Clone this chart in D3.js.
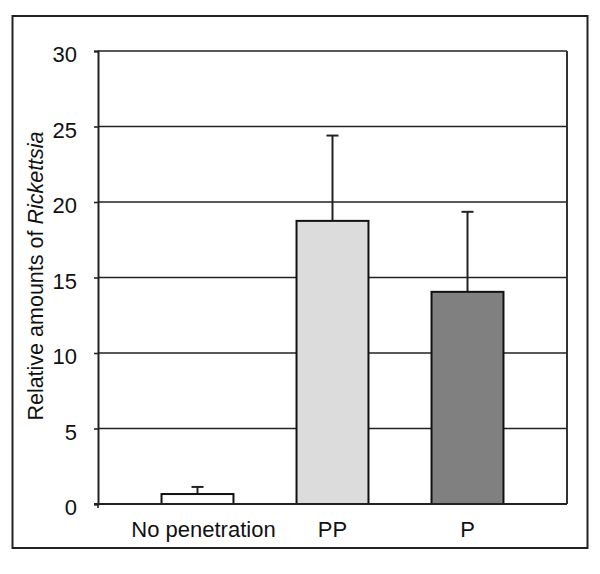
<!DOCTYPE html>
<html>
<head>
<meta charset="utf-8">
<script src="https://cdn.jsdelivr.net/npm/d3@7"></script>
<style>
	body{margin:0;padding:0;background:#fff;}
	svg{display:block;}
	text{font-family:"Liberation Sans", Arial, sans-serif;fill:#111;}
</style>
</head>
<body>
<div id="rickwrap"></div>
<script>
//chart values
var categories = ["No penetration", "PP", "P"];
var means = [0.66, 18.75, 14.05];
var errors = [0.47, 5.65, 5.3];
var yticks = [0, 5, 10, 15, 20, 25, 30];

//global namespace
rick = {};

(function(){

	var scope = rick;
	var dom = scope.dom = {};

	var width = 600, height = 574;
	var fills = ["#ffffff", "#dcdcdc", "#808080"];

	dom.wrap = d3.select("#rickwrap");
	dom.svg = dom.wrap.append("svg").attr("width", width).attr("height", height);

	//outer frame
	dom.svg.append("rect")
		.attr("x", 12.5).attr("y", 16)
		.attr("width", 575).attr("height", 532)
		.attr("fill", "none").attr("stroke", "#222").attr("stroke-width", 2);

	var plot = {left:98, right:567, top:51, bottom:504};

	var y = d3.scaleLinear().domain([0, 30]).range([plot.bottom, plot.top]);
	var x = d3.scaleBand().domain(categories).range([130, 535])
		.paddingInner(0.467).paddingOuter(0.2335);

	//gridlines
	dom.svg.append("g").selectAll("line").data(yticks.filter(function(d){return d>0})).enter()
		.append("line")
		.attr("x1", plot.left).attr("x2", plot.right)
		.attr("y1", function(d){return y(d)}).attr("y2", function(d){return y(d)})
		.attr("stroke", "#222").attr("stroke-width", 1.6);

	//right edge of plot area
	dom.svg.append("line")
		.attr("x1", plot.right).attr("x2", plot.right)
		.attr("y1", plot.top).attr("y2", plot.bottom)
		.attr("stroke", "#333").attr("stroke-width", 2);

	//y axis
	var yaxis = dom.svg.append("g")
		.attr("transform", "translate(" + plot.left + ",0)")
		.call(d3.axisLeft(y).tickValues(yticks).tickSize(4).tickPadding(17));
	yaxis.select(".domain").attr("stroke", "#222").attr("stroke-width", 2);
	yaxis.selectAll(".tick line").attr("stroke", "#222").attr("stroke-width", 1.6);
	yaxis.selectAll("text").attr("font-size", "22px").attr("font-family", "Liberation Sans, Arial, sans-serif")
		.attr("fill", "#111").attr("dy", "0.48em");

	//bars
	var bars = dom.svg.append("g").selectAll("g").data(categories).enter().append("g");

	bars.append("line")
		.attr("x1", function(d){return x(d) + x.bandwidth()/2})
		.attr("x2", function(d){return x(d) + x.bandwidth()/2})
		.attr("y1", function(d,i){return y(means[i])})
		.attr("y2", function(d,i){return y(means[i] + errors[i])})
		.attr("stroke", "#222").attr("stroke-width", 2);

	bars.append("line")
		.attr("x1", function(d){return x(d) + x.bandwidth()/2 - 6})
		.attr("x2", function(d){return x(d) + x.bandwidth()/2 + 6})
		.attr("y1", function(d,i){return y(means[i] + errors[i])})
		.attr("y2", function(d,i){return y(means[i] + errors[i])})
		.attr("stroke", "#222").attr("stroke-width", 2);

	bars.append("rect")
		.attr("x", function(d){return x(d)})
		.attr("y", function(d,i){return y(means[i])})
		.attr("width", x.bandwidth())
		.attr("height", function(d,i){return y(0) - y(means[i])})
		.attr("fill", function(d,i){return fills[i]})
		.attr("stroke", "#111").attr("stroke-width", 2);

	//x axis
	dom.svg.append("line")
		.attr("x1", plot.left - 4).attr("x2", plot.right)
		.attr("y1", y(0)).attr("y2", y(0))
		.attr("stroke", "#222").attr("stroke-width", 2);
	dom.svg.append("line")
		.attr("x1", plot.left).attr("x2", plot.left)
		.attr("y1", y(0)).attr("y2", y(0) + 4)
		.attr("stroke", "#222").attr("stroke-width", 1.6);

	dom.svg.append("g").selectAll("text").data(categories).enter()
		.append("text")
		.attr("x", function(d){return x(d) + x.bandwidth()/2 + (d.length > 2 ? 6 : 0)})
		.attr("y", 537)
		.attr("text-anchor", "middle")
		.attr("font-size", "22px")
		.text(function(d){return d});

	//axis title
	var title = dom.svg.append("text")
		.attr("transform", "translate(43," + 276 + ") rotate(-90)")
		.attr("text-anchor", "middle")
		.attr("font-size", "21.5px");
	title.append("tspan").text("Relative amounts of ");
	title.append("tspan").attr("font-style", "italic").text("Rickettsia");

})(); //end of closure
</script>
</body>
</html>
